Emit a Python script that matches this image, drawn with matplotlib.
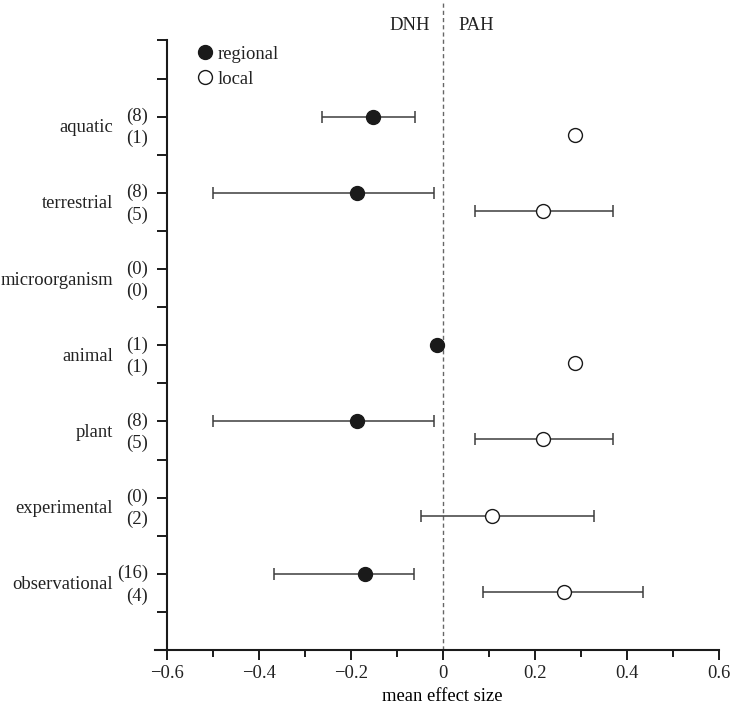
import numpy as np
import matplotlib
matplotlib.use('Agg')
import matplotlib.pyplot as plt

nan = np.nan

categorias = ['aquatic', 'terrestrial', 'microorganism', 'animal', 'plant',
              'experimental', 'observational']
n_regional = [8, 8, 0, 1, 8, 0, 16]
n_local = [1, 5, 0, 1, 5, 2, 4]

media_regional = [-0.152, -0.187, nan, -0.014, -0.187, nan, -0.169]
inf_regional = [-0.262, -0.500, nan, nan, -0.499, nan, -0.368]
sup_regional = [-0.060, -0.019, nan, nan, -0.019, nan, -0.062]

media_local = [0.287, 0.217, nan, 0.287, 0.217, 0.106, 0.262]
inf_local = [nan, 0.069, nan, nan, 0.069, -0.048, 0.087]
sup_local = [nan, 0.370, nan, nan, 0.370, 0.329, 0.434]

rotulos_x = ['\u22120.6', '\u22120.4', '\u22120.2', '0', '0.2', '0.4', '0.6']

plt.rcParams['font.family'] = ['Liberation Serif', 'DejaVu Serif']
plt.rcParams['font.size'] = 13.4
plt.rcParams['text.color'] = '#222222'

cor = '#1a1a1a'


def desenhar(eixo, media, inf, sup, y, face):
    media = np.array(media, dtype=float)
    erro = [media - np.array(inf, dtype=float), np.array(sup, dtype=float) - media]
    eixo.errorbar(media, y, xerr=erro, fmt='none', ecolor='#3d3d3d',
                  elinewidth=1.1, capsize=4.3, capthick=1.1, zorder=2)
    linha, = eixo.plot(media, y, 'o', ms=10, mfc=face, mec=cor, mew=1,
                       ls='none', zorder=3)
    return linha


figura = plt.figure(figsize=(7.3, 7.06), dpi=100)
eixo = figura.add_axes([155 / 730, 56 / 706, 564 / 730, 650 / 706])

posicoes = 14 - 2 * np.arange(len(categorias))
desloc = 0.47  # local fica um pouco abaixo do regional

h_reg = desenhar(eixo, media_regional, inf_regional, sup_regional, posicoes, cor)
h_loc = desenhar(eixo, media_local, inf_local, sup_local, posicoes - desloc, 'white')

eixo.axvline(0, color='#666666', lw=1, ls=(0, (3, 2.2)), zorder=1)

for i, cat in enumerate(categorias):
    y = posicoes[i]
    eixo.text(-0.641, y, '(%d)' % n_regional[i], ha='right', va='center')
    eixo.text(-0.641, y - 0.58, '(%d)' % n_local[i], ha='right', va='center')
    eixo.text(-0.7175, y - 0.29, cat, ha='right', va='center')

eixo.text(-0.029, 16.4, 'DNH', ha='right', va='center')
eixo.text(0.034, 16.4, 'PAH', ha='left', va='center')

eixo.legend([h_reg, h_loc], ['regional', 'local'], loc='upper left',
            bbox_to_anchor=(0.072, 0.930), frameon=False, borderpad=0,
            borderaxespad=0, handlelength=1.0, handletextpad=0.2,
            labelspacing=0.45, fontsize=13.4)

eixo.set_xlim(-0.626, 0.6)
eixo.set_ylim(0, 650 / 38.1)

eixo.set_xticks(np.arange(-0.6, 0.61, 0.2))
eixo.set_xticklabels(rotulos_x)
eixo.set_xticks(np.arange(-0.5, 0.51, 0.2), minor=True)
eixo.set_yticks(np.arange(1, 17))
eixo.set_yticklabels([])

eixo.tick_params(axis='x', which='major', direction='out', length=7.5,
                 width=1.4, color=cor, labelcolor='#222222', pad=3)
eixo.tick_params(axis='x', which='minor', direction='out', length=5,
                 width=1.4, color=cor)
eixo.tick_params(axis='y', direction='out', length=7.2, width=1.4, color=cor)

for lado in ['top', 'right']:
    eixo.spines[lado].set_visible(False)
for lado in ['left', 'bottom']:
    eixo.spines[lado].set_linewidth(1.5)
    eixo.spines[lado].set_color(cor)
eixo.spines['left'].set_position(('data', -0.6))
eixo.spines['left'].set_bounds(0, 16)

eixo.set_xlabel('mean effect size')
eixo.xaxis.set_label_coords(0.509, -0.058)

figura.savefig('out.png', dpi=100)
